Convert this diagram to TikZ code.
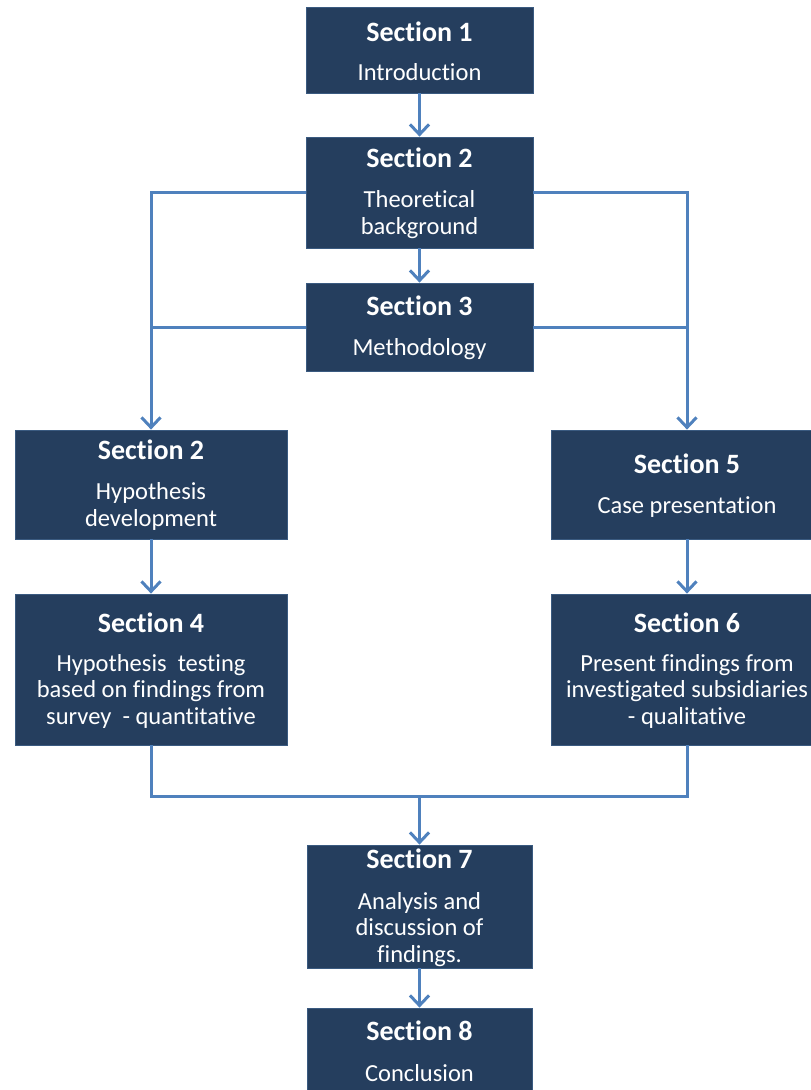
\documentclass[tikz,border=0pt]{standalone}
\usepackage{fontspec}
\setmainfont{Carlito}[Ligatures=NoCommon]
\usetikzlibrary{arrows.meta}
\definecolor{boxfill}{HTML}{253E5E}
\definecolor{boxline}{HTML}{3A5A80}
\definecolor{link}{HTML}{4F81BD}
\tikzset{
  secbox/.style={rectangle, fill=boxfill, draw=boxline, line width=0.8pt, inner sep=0pt},
  sectitle/.style={anchor=base, inner sep=0pt, text=white, font=\fontsize{28}{30}\selectfont\bfseries},
  % anchored on the baseline of the last line
  secbody/.style={anchor=base, inner sep=0pt, text=white, align=center, font=\fontsize{24.5}{26.5}\selectfont},
  wire/.style={draw=link, line width=3pt},
  flow/.style={wire, -{Straight Barb[length=10pt,width=19pt]}}
}
\begin{document}
\begin{tikzpicture}[x=1pt, y=-1pt]
\useasboundingbox (0,0) rectangle (811,1090);
\clip (0,0) rectangle (811,1090);

% boxes
\node[secbox, minimum width=227pt, minimum height=86pt]  (s1) at (419.5,50)    {};
\node[secbox, minimum width=227pt, minimum height=111pt] (s2) at (419.5,192.5) {};
\node[secbox, minimum width=227pt, minimum height=88pt]  (s3) at (419.5,327)   {};
\node[secbox, minimum width=272pt, minimum height=109pt] (hd) at (151,484.5)   {};
\node[secbox, minimum width=272pt, minimum height=151pt] (s4) at (151,669.5)   {};
\node[secbox, minimum width=272pt, minimum height=109pt] (s5) at (687,484.5)   {};
\node[secbox, minimum width=272pt, minimum height=151pt] (s6) at (687,669.5)   {};
\node[secbox, minimum width=225pt, minimum height=123pt] (s7) at (419.5,906.5) {};
\node[secbox, minimum width=225pt, minimum height=86pt]  (s8) at (419.5,1051)  {};

% titles and descriptions
\node[sectitle] (t1) at (419.5,41)  {Section 1};
\node[secbody]  (b1) at (419.5,80)  {Introduction};
\node[sectitle] (t2) at (419.5,167) {Section 2};
\node[secbody]  (b2) at (419.5,234) {Theoretical\\background};
\node[sectitle] (t3) at (419.5,315) {Section 3};
\node[secbody]  (b3) at (419.5,355) {Methodology};
\node[sectitle] (th) at (151,459)   {Section 2};
\node[secbody]  (bh) at (151,526)   {Hypothesis\\development};
\node[sectitle] (t4) at (151,632)   {Section 4};
\node[secbody]  (b4) at (151,724)   {Hypothesis\ \ testing\\based on findings from\\survey\ \ - quantitative};
\node[sectitle] (t5) at (687,473)   {Section 5};
\node[secbody]  (b5) at (687,513)   {Case presentation};
\node[sectitle] (t6) at (687,632)   {Section 6};
\node[secbody]  (b6) at (687,724)   {Present findings from\\investigated subsidiaries\\- qualitative};
\node[sectitle] (t7) at (419.5,868) {Section 7};
\node[secbody]  (b7) at (419.5,962) {Analysis and\\discussion of\\findings.};
\node[sectitle] (t8) at (419.5,1040){Section 8};
\node[secbody]  (b8) at (419.5,1081){Conclusion};

% connectors
\draw[flow] (s1.south) -- (s2.north);
\draw[flow] (s2.south) -- (s3.north);
\draw[flow] (s2.west) -| (hd.north);
\draw[flow] (s2.east) -| (s5.north);
\draw[wire] (s3.west) -- (s3.west -| hd.north);
\draw[wire] (s3.east) -- (s3.east -| s5.north);
\draw[flow] (hd.south) -- (s4.north);
\draw[flow] (s5.south) -- (s6.north);
\coordinate (join) at (419.5,796);
\draw[wire] (s4.south) |- (join) -| (s6.south);
\draw[flow] (join) -- (s7.north);
\draw[flow] (s7.south) -- (s8.north);
\end{tikzpicture}
\end{document}
